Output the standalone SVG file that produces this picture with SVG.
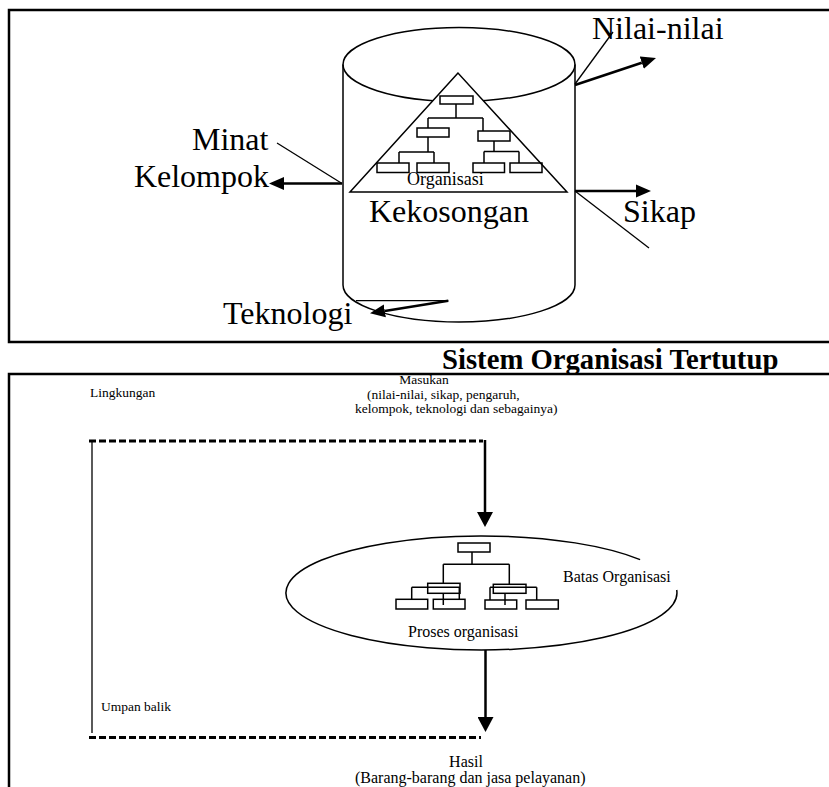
<svg xmlns="http://www.w3.org/2000/svg" width="829" height="787" viewBox="0 0 829 787">
<style>
  .frame{fill:none;stroke:#000;stroke-width:2.5}
  .ol{fill:none;stroke:#000;stroke-width:1.5}
  .wf{fill:#fff;stroke:#000;stroke-width:1.5}
  .thin{fill:none;stroke:#000;stroke-width:1.3}
  .thick{fill:none;stroke:#000;stroke-width:2.5}
  .dash{fill:none;stroke:#000;stroke-width:3;stroke-dasharray:7 3}
  .big{font-family:"Liberation Serif","Times New Roman",serif;font-size:32px;fill:#000}
  .mid{font-family:"Liberation Serif","Times New Roman",serif;font-size:18px;fill:#000}
  .sm{font-family:"Liberation Serif","Times New Roman",serif;font-size:16px;fill:#000}
  .xs{font-family:"Liberation Serif","Times New Roman",serif;font-size:13.5px;fill:#000}
  .title{font-family:"Liberation Serif","Times New Roman",serif;font-size:28.7px;font-weight:bold;fill:#000}
</style>
<defs>
  <marker id="ah" markerWidth="15" markerHeight="14" refX="0" refY="7" orient="auto" markerUnits="userSpaceOnUse">
    <path d="M0,0.5 L15,7 L0,13.5 z" fill="#000"/>
  </marker>
  <marker id="ah2" markerWidth="15" markerHeight="16" refX="0" refY="8" orient="auto" markerUnits="userSpaceOnUse">
    <path d="M0,0 L15,8 L0,16 z" fill="#000"/>
  </marker>
</defs>

<!-- frames -->
<g id="frames">
  <path class="frame" d="M829,10 H9 V342 H829"/>
  <path class="frame" d="M829,374 H9 V787"/>
</g>

<!-- cylinder (closed system) -->
<g id="cylinder">
  <ellipse class="ol" cx="459" cy="64.5" rx="116" ry="37"/>
  <path class="ol" d="M343,64.5 V285 A116,37 0 0 0 575,285 V64.5"/>
</g>

<g id="triangle-org">
  <polygon class="wf" points="458,73 350,192 567,192"/>
  <g class="ol">
    <rect x="440" y="96" width="33" height="8"/>
    <path d="M456,104 V118 M428,118 H483 M428,118 V128 M483,118 V131"/>
    <rect x="417" y="128" width="32" height="9"/>
    <rect x="478" y="131" width="32" height="10"/>
    <path d="M428,137 V152 M399,152 H434 M399,152 V163 M434,152 V163"/>
    <rect x="377" y="163" width="32" height="9.5"/>
    <rect x="417" y="163" width="32" height="9.5"/>
    <path d="M494,141 V151.5 M484,151.5 H519 M484,151.5 V163 M519,151.5 V163"/>
    <rect x="473" y="163" width="31.5" height="9.5"/>
    <rect x="510" y="163" width="32" height="9.5"/>
  </g>
  <text class="mid" x="407" y="185">Organisasi</text>
</g>

<g id="label-kekosongan"><text class="big" x="369" y="222">Kekosongan</text></g>
<g id="label-nilai"><text class="big" x="592" y="39">Nilai-nilai</text></g>
<g id="label-minat"><text class="big" x="192" y="150">Minat</text><text class="big" x="269" y="187" text-anchor="end">Kelompok</text></g>
<g id="label-sikap"><text class="big" x="623" y="222">Sikap</text></g>
<g id="label-teknologi"><text class="big" x="223" y="324">Teknologi</text></g>

<g id="connectors-top">
  <line class="thin" x1="277" y1="143" x2="342" y2="183.5"/>
  <line class="thick" x1="342" y1="183.5" x2="284" y2="183.5" marker-end="url(#ah)"/>
  <line class="thin" x1="575" y1="84" x2="613" y2="32"/>
  <line class="thick" x1="575" y1="85" x2="641.8" y2="62.7" marker-end="url(#ah)"/>
  <line class="thick" x1="575" y1="191" x2="636" y2="191" marker-end="url(#ah)"/>
  <line class="thin" x1="575" y1="191" x2="649" y2="248"/>
  <line class="thin" x1="356" y1="300.7" x2="448.3" y2="300.7"/>
  <line class="thick" x1="448.3" y1="300.7" x2="384.8" y2="310.9" marker-end="url(#ah)"/>
</g>

<g id="title"><text class="title" x="442" y="369">Sistem Organisasi Tertutup</text></g>

<!-- lower open system -->
<g id="label-lingkungan"><text class="xs" x="90" y="397">Lingkungan</text></g>
<g id="label-masukan">
  <text class="xs" x="424" y="384" text-anchor="middle">Masukan</text>
  <text class="xs" x="367" y="398.5">(nilai-nilai, sikap, pengaruh,</text>
  <text class="xs" x="355" y="413">kelompok, teknologi dan sebagainya)</text>
</g>

<g id="org-boundary">
  <path class="ol" d="M676.7,590 A195.5,57 0 1 1 640.1,559.6"/>
  <g class="ol">
    <rect x="458" y="543" width="32" height="9"/>
    <path d="M472,552 V564.3 M443.3,564.3 H509.3 M443.3,564.3 V583.3 M509.3,564.3 V584.3"/>
    <rect x="427.7" y="583.3" width="32.3" height="10"/>
    <path d="M411.7,587.3 H460 M411.7,587.3 V599.3 M443.3,593.3 V605 M459.3,587.3 V599.3"/>
    <rect x="396" y="599.3" width="31.7" height="9.7"/>
    <rect x="433.3" y="599.3" width="31.7" height="9.7"/>
    <rect x="493.3" y="584.3" width="32.7" height="9"/>
    <path d="M490,587.3 H536.7 M490,587.3 V600 M536.7,587.3 V600 M505,593.3 V605"/>
    <rect x="485" y="600" width="31.7" height="9"/>
    <rect x="526" y="600" width="32.3" height="9"/>
  </g>
  <text class="sm" x="563" y="582">Batas Organisasi</text>
  <text class="sm" x="408" y="637">Proses organisasi</text>
</g>

<g id="label-umpan"><text class="xs" x="101" y="711">Umpan balik</text></g>
<g id="label-hasil">
  <text class="sm" x="466" y="767" text-anchor="middle">Hasil</text>
  <text class="sm" x="355" y="783">(Barang-barang dan jasa pelayanan)</text>
</g>

<g id="connectors-bottom">
  <line class="dash" x1="89" y1="441" x2="483" y2="441"/>
  <line class="dash" x1="89" y1="737.5" x2="481" y2="737.5"/>
  <line class="thin" x1="92" y1="441" x2="92" y2="733"/>
  <line class="thick" x1="485" y1="440" x2="485" y2="512" marker-end="url(#ah2)"/>
  <line class="thick" x1="485.5" y1="650" x2="485.5" y2="717" marker-end="url(#ah2)"/>
</g>
</svg>
